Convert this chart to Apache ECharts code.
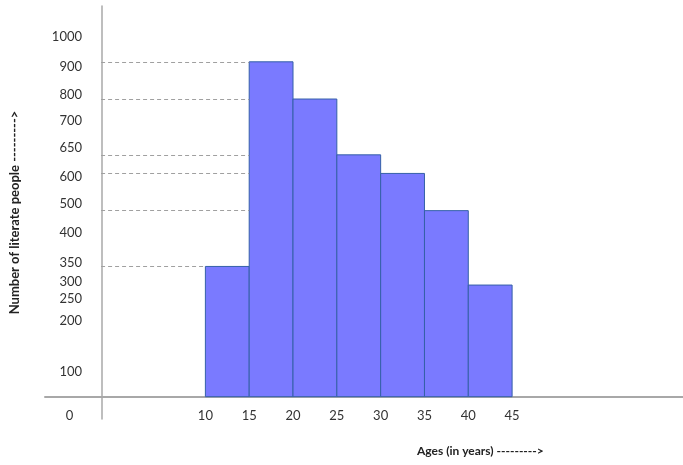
<!DOCTYPE html>
<html>
<head>
<meta charset="utf-8">
<script src="https://cdn.jsdelivr.net/npm/echarts@6/dist/echarts.min.js"></script>
<style>
html,body{margin:0;padding:0;background:#fff;}
#main{width:683px;height:465px;}
</style>
</head>
<body>
<div id="main"></div>
<script>
// age classes (start / end) and number of literate people
var classStart = [10, 15, 20, 25, 30, 35, 40];
var classEnd = [15, 20, 25, 30, 35, 40, 45];
var people = [350, 900, 800, 650, 600, 500, 300];

// hand drawn y labels: text and where each one sits on the scale
var yLabelText = ['1000', '900', '800', '700', '650', '600', '500', '400', '350', '300', '250', '200', '100'];
var yLabelAt = [967, 886, 810, 742, 668, 591, 518, 440, 360, 309, 263, 205, 68];

// x labels (the "0" sits at the origin, left of the kink)
var xLabelText = ['0', '10', '15', '20', '25', '30', '35', '40', '45'];
var xLabelAt = [-5.5, 10, 15, 20, 25, 30, 35, 40, 45];

// guide lines from the y axis to the bar tops
var guideValues = [900, 800, 650, 600, 500, 350];
var yAxisAge = -1.9;

var font = 'Lato, "Open Sans", sans-serif';

function guideEnd(v) {
    for (var i = 0; i < people.length; i++) {
        if (people[i] >= v) return classStart[i];
    }
    return classStart[0];
}

var guides = guideValues.map(function (v) {
    return [{coord: [yAxisAge, v]}, {coord: [guideEnd(v), v]}];
});

var bars = classStart.map(function (s, i) {
    return [s, classEnd[i], people[i]];
});

var myChart = echarts.init(document.getElementById('main'));
myChart.setOption({
    animation: false,
    backgroundColor: '#ffffff',
    grid: {left: 40, right: 0, top: 6, bottom: 46},
    xAxis: {
        type: 'value',
        min: -8.3,
        max: 64.5,
        splitLine: {show: false},
        axisTick: {show: false},
        axisLine: {onZero: true, lineStyle: {color: '#a8a8a8', width: 2}},
        axisLabel: {
            customValues: xLabelAt,
            margin: -10,
            color: '#333',
            fontSize: 13,
            fontFamily: font,
            formatter: function (v) {
                var i = xLabelAt.indexOf(v);
                return i >= 0 ? xLabelText[i] : '';
            }
        }
    },
    yAxis: {
        type: 'value',
        min: -60,
        max: 1050,
        offset: -57,
        splitLine: {show: false},
        axisTick: {show: false},
        axisLine: {show: true, onZero: false, lineStyle: {color: '#a8a8a8', width: 1.5}},
        axisLabel: {
            customValues: yLabelAt,
            margin: 20,
            color: '#333',
            fontSize: 13,
            fontFamily: font,
            formatter: function (v) {
                var i = yLabelAt.indexOf(v);
                return i >= 0 ? yLabelText[i] : '';
            }
        },
        name: 'Number of literate people --------->',
        nameLocation: 'middle',
        nameRotate: 90,
        nameGap: 81,
        nameTextStyle: {color: '#222', fontSize: 13, fontWeight: 'bold', fontFamily: font}
    },
    graphic: [{
        type: 'text',
        left: 417,
        top: 445,
        style: {text: 'Ages (in years) --------->', fill: '#222', font: 'bold 12px ' + font}
    }],
    series: [{
        type: 'custom',
        data: bars,
        encode: {x: [0, 1], y: 2},
        renderItem: function (params, api) {
            var p0 = api.coord([api.value(0), api.value(2)]);
            var p1 = api.coord([api.value(1), 0]);
            return {
                type: 'rect',
                shape: {x: p0[0], y: p0[1], width: p1[0] - p0[0], height: p1[1] - p0[1]},
                style: {fill: '#7a7aff', stroke: '#3560a8', lineWidth: 1}
            };
        },
        markLine: {
            silent: true,
            symbol: ['none', 'none'],
            label: {show: false},
            lineStyle: {color: '#a0a0a0', type: [4, 3], width: 1},
            data: guides
        },
        z: 3
    }]
});
</script>
</body>
</html>
